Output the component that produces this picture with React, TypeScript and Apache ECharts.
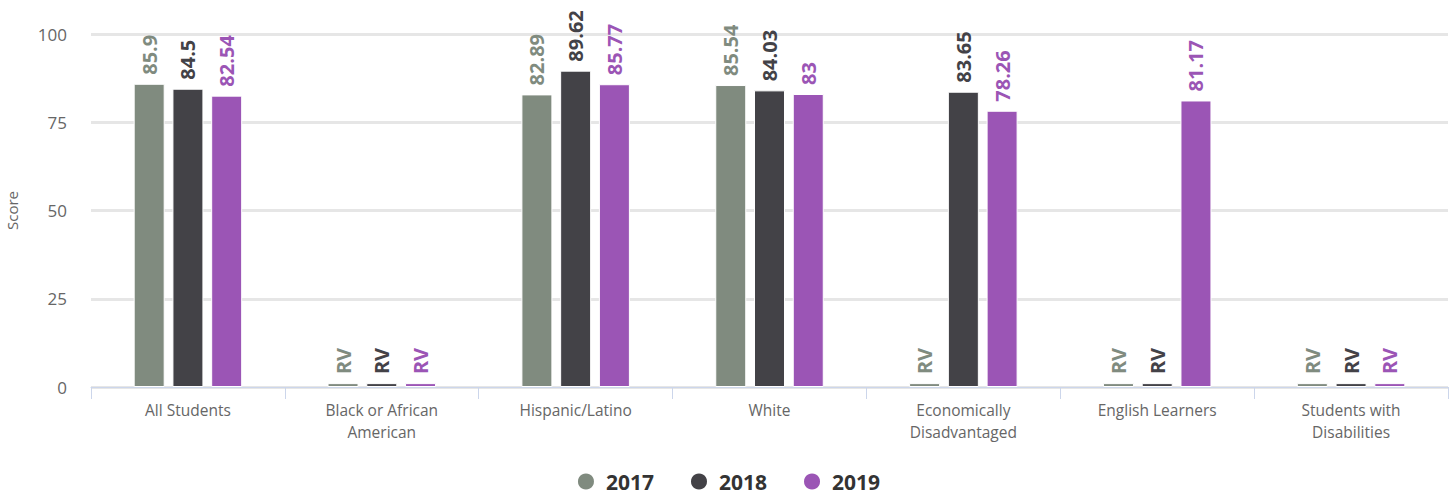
import React, { useEffect, useRef } from "react";
import * as echarts from "echarts";

const categories = [
  "All Students",
  "Black or African\nAmerican",
  "Hispanic/Latino",
  "White",
  "Economically\nDisadvantaged",
  "English Learners",
  "Students with\nDisabilities",
];
const seriesNames = ["2017", "2018", "2019"];
const values2017: (number | string)[] = [85.9, "RV", 82.89, 85.54, "RV", "RV", "RV"];
const values2018: (number | string)[] = [84.5, "RV", 89.62, 84.03, 83.65, "RV", "RV"];
const values2019: (number | string)[] = [82.54, "RV", 85.77, 83, 78.26, 81.17, "RV"];
const yTicks = [0, 25, 50, 75, 100];
const RV_HEIGHT = 1.1;
const colors = ["#808b7f", "#434247", "#9b55b5"];

const FONT = "'Open Sans', 'Noto Sans', sans-serif";

export default function App() {
  const ref = useRef<HTMLDivElement>(null);
  useEffect(() => {
    if (!ref.current) return;
    const chart = echarts.init(ref.current, undefined, { renderer: "svg" });
    const all = [values2017, values2018, values2019];
    chart.setOption({
      animation: false,
      textStyle: { fontFamily: FONT },
      grid: { left: 91, right: 8, top: 34, bottom: 112, containLabel: false, outerBoundsMode: "none" },
      legend: {
        bottom: 2,
        left: "center",
        icon: "circle",
        itemWidth: 18,
        itemHeight: 18,
        itemGap: 35,
        textStyle: {
          fontSize: 21,
          fontWeight: "bold",
          color: "#333333",
          fontFamily: FONT,
          padding: [0, 0, 0, 6],
        },
        data: seriesNames,
      },
      xAxis: {
        type: "category",
        data: categories,
        axisLine: { lineStyle: { color: "#ccd6eb", width: 1 } },
        axisTick: { show: true, length: 12, lineStyle: { color: "#ccd6eb" } },
        axisLabel: { color: "#666666", fontSize: 15.5, margin: 12, lineHeight: 22, fontFamily: FONT },
      },
      yAxis: {
        type: "value",
        min: 0,
        max: 100,
        interval: 25,
        name: "Score",
        nameLocation: "middle",
        nameGap: 72,
        nameRotate: 90,
        nameTextStyle: { color: "#666666", fontSize: 15, fontFamily: FONT },
        axisLabel: {
          color: "#666666",
          fontSize: 17,
          margin: 24,
          fontFamily: FONT,
          formatter: (v: number) => (yTicks.includes(v) ? String(v) : ""),
        },
        splitLine: { lineStyle: { color: "#e6e6e6", width: 3 } },
        axisLine: { show: false },
        axisTick: { show: false },
      },
      series: all.map((vals, i) => ({
        name: seriesNames[i],
        type: "bar",
        data: vals.map((v) => ({
          value: typeof v === "string" ? RV_HEIGHT : v,
          label: { formatter: String(v) },
        })),
        barWidth: 31,
        barGap: "25%",
        itemStyle: { color: colors[i], borderColor: "#ffffff", borderWidth: 1 },
        label: {
          show: true,
          position: "top",
          color: colors[i],
          fontSize: 20,
          fontWeight: "bold",
          fontFamily: FONT,
        },
        labelLayout: (p: any) => ({
          x: p.rect.x + p.rect.width / 2,
          y: p.rect.y - 9,
          rotate: 90,
          align: "left",
          verticalAlign: "middle",
        }),
      })),
    });
    return () => chart.dispose();
  }, []);
  return (
    <div
      ref={ref}
      style={{ position: "absolute", left: 0, top: 0, width: 1456, height: 499, background: "#ffffff" }}
    />
  );
}
